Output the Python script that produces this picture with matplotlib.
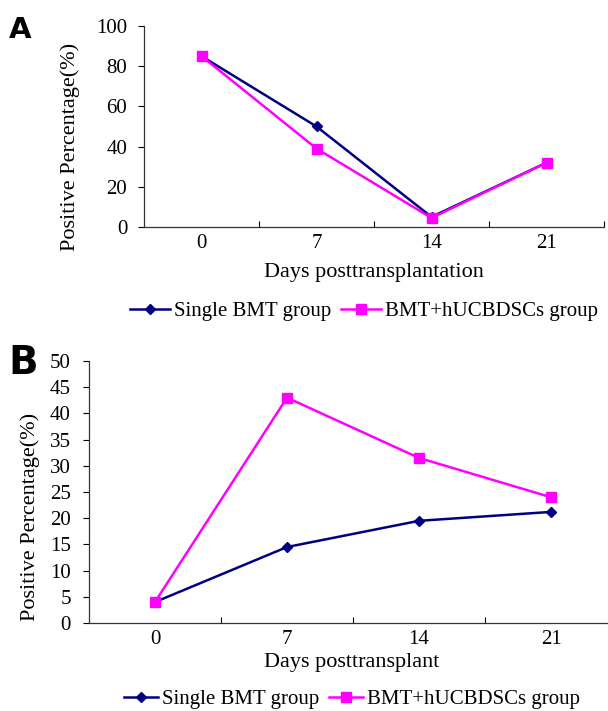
import matplotlib
matplotlib.use("Agg")
import matplotlib.pyplot as plt
import numpy as np

# data
days = ["0", "7", "14", "21"]
single_a = [85, 50, 5, 32]
combo_a = [85, 39, 4.5, 32]
single_b = [4, 14.5, 19.5, 21.2]
combo_b = [4, 43, 31.5, 24]

NAVY = "#000080"
MAGENTA = "#FF00FF"
SERIF = ["Liberation Serif", "DejaVu Serif"]
SANS = ["DejaVu Sans", "Liberation Sans"]

plt.rcParams["font.family"] = SERIF

W, H = 608, 711
fig = plt.figure(figsize=(W / 100, H / 100), dpi=100)


def px_axes(left, top, right, bottom):
    return fig.add_axes([left / W, 1 - bottom / H, (right - left) / W, (bottom - top) / H])


def draw_panel(ax, s1, s2, ymax, ystep, xlabel):
    x = np.arange(len(days))
    ax.plot(x, s1, color=NAVY, lw=1.8, marker="D", ms=5.5, label="Single BMT group", zorder=3)
    ax.plot(x, s2, color=MAGENTA, lw=1.8, marker="s", ms=7.5, label="BMT+hUCBDSCs group", zorder=4)
    ax.set_xlim(-0.5, len(days) - 0.5)
    ax.set_ylim(0, ymax)
    ax.set_yticks(np.arange(0, ymax + 0.1, ystep))
    ax.set_xticks(x)
    ax.set_xticklabels(days)
    # tick marks sit between the categories, pointing up
    ax.set_xticks(np.arange(0.5, len(days) + 0.1, 1), minor=True)
    ax.tick_params(axis="x", which="major", length=0, pad=5, labelsize=15)
    ax.tick_params(axis="x", which="minor", direction="in", length=4, width=0.8)
    ax.tick_params(axis="y", direction="out", length=4, width=0.8, labelsize=15)
    for s in ["top", "right"]:
        ax.spines[s].set_visible(False)
    for s in ["left", "bottom"]:
        ax.spines[s].set_linewidth(0.9)
        ax.spines[s].set_color("#333333")
    ax.set_xlabel(xlabel, fontsize=16, va="center")
    return ax


def add_legend(ax, cx, cy, hl):
    ax.legend(loc="center", bbox_to_anchor=(cx / W, 1 - cy / H), bbox_transform=fig.transFigure,
              ncol=2, frameon=False, fontsize=15, handlelength=hl, handletextpad=0.2,
              columnspacing=0.5, borderpad=0)


# panel A
ax_a = px_axes(144, 26, 604, 227)
draw_panel(ax_a, single_a, combo_a, 100, 20, "Days posttransplantation")
ax_a.xaxis.set_label_coords(374 / W, 1 - 273 / H, transform=fig.transFigure)
ax_a.tick_params(axis="y", pad=8)
fig.text(70 / W, 1 - 147 / H, "Positive Percentage(%)", rotation=90, ha="center", va="center", fontsize=16)
add_legend(ax_a, 364, 311, 1.9)
fig.text(9 / W, 1 - 30 / H, "A", fontsize=21, family=SANS, fontweight="bold", ha="left", va="center")

# panel B (axis runs past the right edge in the original)
ax_b = px_axes(89, 361, 617, 623)
draw_panel(ax_b, single_b, combo_b, 50, 5, "Days posttransplant")
ax_b.xaxis.set_label_coords(352 / W, 1 - 662 / H, transform=fig.transFigure)
ax_b.tick_params(axis="y", pad=9)
fig.text(30 / W, 1 - 517 / H, "Positive Percentage(%)", rotation=90, ha="center", va="center", fontsize=16)
add_legend(ax_b, 352, 699, 1.6)
fig.text(8 / W, 1 - 363 / H, "B", fontsize=28, family=SANS, fontweight="bold", ha="left", va="center")

fig.savefig("out.png", dpi=100)
